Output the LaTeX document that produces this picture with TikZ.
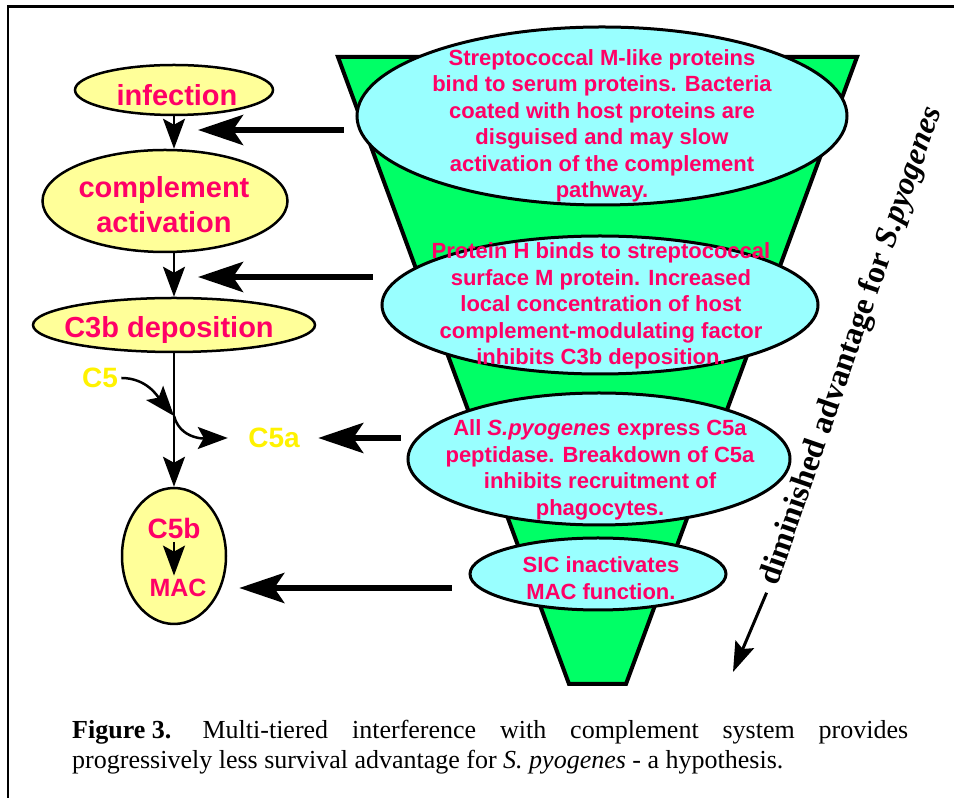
\documentclass[tikz,border=0pt]{standalone}
\usepackage{fontspec}
\setmainfont{Liberation Serif}
\setsansfont{Liberation Sans}
\usetikzlibrary{arrows.meta, shapes.geometric}
\definecolor{pinkred}{HTML}{FF0066}
\definecolor{paleyellow}{HTML}{FFFF99}
\definecolor{palecyan}{HTML}{99FFFF}
\definecolor{funnelgreen}{HTML}{00FF66}

\begin{document}
\begin{tikzpicture}[x=1pt, y=1pt,
    yel/.style={ellipse, draw, line width=2.5pt, fill=paleyellow, inner sep=0pt},
    tier/.style={ellipse, draw, line width=3pt, fill=palecyan, inner sep=0pt},
    tiertext/.style={font=\sffamily\bfseries\fontsize{22}{26.5}\selectfont, text=pinkred, align=center, inner sep=0pt},
    steptext/.style={font=\sffamily\bfseries\fontsize{29}{35}\selectfont, text=pinkred, align=center},
    comptext/.style={font=\sffamily\bfseries\fontsize{28}{34}\selectfont, text=yellow},
    flow/.style={-{Stealth[length=30pt, width=22pt, inset=6pt]}, line width=2.5pt},
    block/.style={-{Stealth[length=45pt, width=30pt, inset=10pt]}, line width=6pt}]
    \useasboundingbox (0, 0) rectangle (954, 798);

    \draw [line width=2.5pt] (8, 0) -- (8, 791.5) -- (954, 791.5);

    % funnel of tiers
    \draw [line width=4pt, fill=funnelgreen] (338, 741) -- (857, 741) -- (626, 114) -- (569, 114) -- cycle;

    \node [tier, minimum width=490pt, minimum height=178pt] (spread) at (602, 682) {};
    \node [tier, minimum width=436pt, minimum height=138pt] (proth) at (600, 493) {};
    \node [tier, minimum width=382pt, minimum height=132pt] (pept) at (599, 339) {};
    \node [tier, minimum width=256pt, minimum height=72pt] (sic) at (598, 224) {};

    \node [tiertext] (spreadtext) at (602, 672) {Streptococcal M-like proteins\\bind to serum proteins. Bacteria\\coated with host proteins are\\disguised and may slow\\activation of the complement\\pathway.};
    \node [tiertext] (prothtext) at (601, 492) {Protein H binds to streptococcal\\surface M protein. Increased\\local concentration of host\\complement-modulating factor\\inhibits C3b deposition.};
    \node [tiertext] (pepttext) at (600, 328) {All \textit{S.pyogenes} express C5a\\peptidase. Breakdown of C5a\\inhibits recruitment of\\phagocytes.};
    \node [tiertext] (sictext) at (601, 220) {SIC inactivates\\MAC function.};

    % complement cascade
    \node [yel, minimum width=198pt, minimum height=50pt] (infection) at (174, 708) {};
    \node [yel, minimum width=245pt, minimum height=102pt] (compl) at (165, 597) {};
    \node [yel, minimum width=282pt, minimum height=54pt] (c3b) at (174, 473) {};
    \node [yel, minimum width=104pt, minimum height=136pt] (memb) at (174, 242) {};

    \node [steptext] (infectiontext) at (177, 703) {infection};
    \node [steptext] (compltext) at (164, 593) {complement\\activation};
    \node [steptext] (c3btext) at (169, 468) {C3b deposition};
    \node [steptext, font=\sffamily\bfseries\fontsize{28}{34}\selectfont] (c5b) at (174, 270) {C5b};
    \node [steptext, font=\sffamily\bfseries\fontsize{25}{30}\selectfont] (mac) at (178, 210) {MAC};
    \node [comptext] (c5) at (100, 420) {C5};
    \node [comptext] (c5a) at (274, 360) {C5a};

    \draw [flow] (infection.south) -- (infection.south |- compl.north);
    \draw [flow] (c3b.north |- compl.south) -- (c3b.north);
    \draw [flow] (c3b.south) -- (memb.north);
    \draw [flow, line width=2pt] (c5b.south) -- (mac.north -| c5b.south);

    \coordinate (split) at (174, 382);
    \draw [flow] (c5.east) to [out=0, in=130] (split);
    \draw [flow, shorten >=17pt] (split) to [out=-75, in=180] (c5a.west);

    % interference arrows
    \coordinate (hit1) at (198, 668);
    \coordinate (hit2) at (198, 521);
    \draw [block, shorten <=12pt] (spread.west |- hit1) -- (hit1);
    \draw [block, shorten <=8pt] (proth.west |- hit2) -- (hit2);
    \draw [block, shorten <=6pt, shorten >=15pt] (pept.west |- c5a) -- (c5a.east);
    \draw [block, shorten <=17pt, shorten >=12pt] (sic.west |- mac) -- (memb.east |- mac);

    \node [rotate=71, font=\rmfamily\bfseries\fontsize{32}{38}\selectfont] (adv) at (852, 452) {diminished advantage for \textit{S.pyogenes}};
    \coordinate (advtip) at (733, 126);
    \draw [-{Stealth[length=30pt, width=20pt, inset=5pt]}, line width=3pt, shorten <=6pt] (adv.west) -- (advtip);

    \node [anchor=west, text width=836pt, align=justify, inner sep=0pt, font=\fontsize{26}{30}\selectfont] (caption) at (72, 51) {\hyphenpenalty=10000 \mbox{\bfseries Figure 3.}\hspace{1.2em}Multi-tiered interference with complement system provides\linebreak progressively less survival advantage for \textit{S. pyogenes} - a hypothesis.};
\end{tikzpicture}
\end{document}
